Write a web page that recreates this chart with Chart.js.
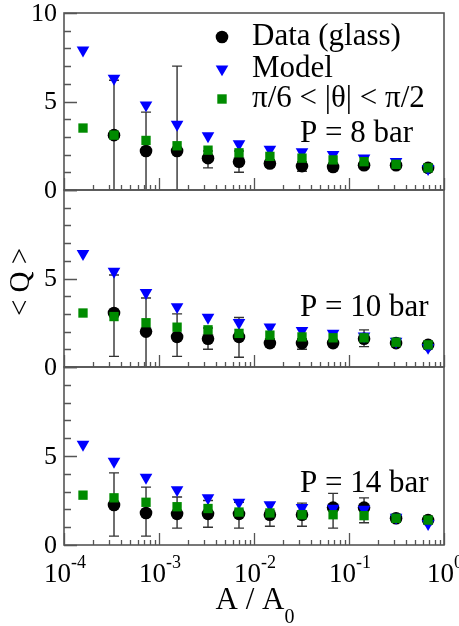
<!DOCTYPE html>
<html>
<head>
<meta charset="utf-8">
<script src="https://cdn.jsdelivr.net/npm/chart.js@4.4.1/dist/chart.umd.min.js"></script>
<style>
  html, body { margin: 0; padding: 0; background: #fff; }
  #wrap { position: relative; width: 459px; height: 626px; overflow: hidden; }
  canvas { position: absolute; left: 0; }
  #fontprobe { position: absolute; left: -1000px; top: 0; font-family: "Liberation Serif"; font-size: 20px; }
</style>
</head>
<body>
<div id="fontprobe">Data (glass) Model π/6 &lt; |θ| &lt; π/2 P = 8 bar 10 A / A0</div>
<div id="wrap">
  <canvas id="p8" width="459" height="200" style="top:0px"></canvas>
  <canvas id="p10" width="459" height="200" style="top:180px"></canvas>
  <canvas id="p14" width="459" height="269" style="top:357px"></canvas>
</div>
<script>
// x values (A / A0)
const areaRatio = [1.585e-4, 3.36e-4, 7.3e-4, 1.55e-3, 3.28e-3, 6.95e-3, 0.0147, 0.032, 0.068, 0.144, 0.313, 0.68];

// P = 8 bar
const data8 = [null, 3.1, 2.2, 2.2, 1.8, 1.6, 1.5, 1.35, 1.3, 1.4, 1.4, 1.25];
const model8 = [7.9, 6.3, 4.8, 3.7, 3.05, 2.6, 2.3, 2.15, 2.0, 1.8, 1.6, 1.2];
const range8 = [3.5, 3.1, 2.8, 2.5, 2.25, 2.1, 1.9, 1.8, 1.7, 1.6, 1.45, 1.25];
const errLow8 = [null, 0, 0, 0, 1.25, 1.0, 1.3, 1.05, 1.1, 1.25, 1.3, 1.15];
const errHigh8 = [null, 6.2, 4.4, 7.0, 2.2, 2.2, 1.7, 1.6, 1.5, 1.55, 1.5, 1.35];

// P = 10 bar
const data10 = [null, 3.05, 2.0, 1.7, 1.6, 1.7, 1.35, 1.35, 1.35, 1.6, 1.35, 1.25];
const model10 = [6.4, 5.4, 4.2, 3.4, 2.8, 2.5, 2.25, 2.05, 1.9, 1.75, 1.45, 1.1];
const range10 = [3.05, 2.85, 2.5, 2.25, 2.1, 1.9, 1.8, 1.7, 1.65, 1.65, 1.4, 1.25];
const errLow10 = [null, 0.6, 0, 0.6, 1.0, 0.55, 1.15, 1.0, 1.2, 1.15, 1.2, 1.1];
const errHigh10 = [null, 5.2, 3.9, 3.0, 2.2, 2.8, 1.6, 1.6, 1.5, 2.1, 1.5, 1.4];

// P = 14 bar
const data14 = [null, 2.25, 1.8, 1.75, 1.75, 1.75, 1.7, 1.7, 2.1, 2.1, 1.5, 1.4];
const model14 = [5.65, 4.7, 3.8, 3.1, 2.65, 2.4, 2.25, 2.1, 2.05, 2.0, 1.55, 1.2];
const range14 = [2.8, 2.65, 2.4, 2.15, 2.05, 1.85, 1.8, 1.7, 1.7, 1.65, 1.5, 1.4];
const errLow14 = [null, 0.5, 0.5, 0.95, 1.0, 0.95, 1.05, 1.05, 0.95, 1.25, 1.3, 1.2];
const errHigh14 = [null, 4.05, 3.25, 2.7, 2.5, 2.4, 2.35, 2.35, 2.9, 2.65, 1.7, 1.6];

const legendLabels = ['Data (glass)', 'Model', 'π/6 < |θ| < π/2'];
const yTicksTop = [0, 5, 10];
const yTicksLower = [0, 5];
const xTickExponents = [-4, -3, -2, -1, 0];

const serif = '"Liberation Serif"';
const GREEN = '#008b00';

function toPoints(values) {
    return areaRatio.map((x, i) => ({x: x, y: values[i]})).filter(p => p.y !== null);
}

function drawMarker(ctx, kind, x, y) {
    ctx.beginPath();
    if (kind === 'circle') {
        ctx.fillStyle = '#000';
        ctx.arc(x, y, 6.3, 0, Math.PI * 2);
    } else if (kind === 'triangle') {
        ctx.fillStyle = '#0000ff';
        ctx.moveTo(x - 6.3, y - 3.6);
        ctx.lineTo(x + 6.3, y - 3.6);
        ctx.lineTo(x, y + 7.3);
        ctx.closePath();
    } else {
        ctx.fillStyle = GREEN;
        ctx.rect(x - 4.7, y - 4.7, 9.4, 9.4);
    }
    ctx.fill();
}

const panelDeco = {
    id: 'panelDeco',
    beforeDatasetsDraw(chart, args, opts) {
        const {ctx, chartArea: a} = chart;
        const x = chart.scales.x, y = chart.scales.y;
        ctx.save();
        ctx.beginPath();
        ctx.rect(a.left, a.top, a.right - a.left, a.bottom - a.top);
        ctx.clip();
        ctx.strokeStyle = '#333';
        ctx.lineWidth = 1.4;
        opts.errLow.forEach((lo, i) => {
            if (lo === null) return;
            const px = x.getPixelForValue(areaRatio[i]);
            const yl = y.getPixelForValue(lo);
            const yh = y.getPixelForValue(opts.errHigh[i]);
            ctx.beginPath();
            ctx.moveTo(px, yl); ctx.lineTo(px, yh);
            ctx.moveTo(px - 5, yl); ctx.lineTo(px + 5, yl);
            ctx.moveTo(px - 5, yh); ctx.lineTo(px + 5, yh);
            ctx.stroke();
        });
        ctx.restore();
    },
    afterDraw(chart, args, opts) {
        const {ctx, chartArea: a} = chart;
        const x = chart.scales.x, y = chart.scales.y;
        ctx.save();

        // ticks (pointing inward)
        ctx.strokeStyle = '#555';
        ctx.lineWidth = 1.3;
        ctx.beginPath();
        for (let v = 0; v <= 10; v++) {
            const py = Math.round(y.getPixelForValue(v)) + 0.5;
            ctx.moveTo(a.left, py);
            ctx.lineTo(a.left + (v % 5 === 0 ? 13 : 7), py);
        }
        xTickExponents.forEach(d => {
            for (let m = 1; m <= 9; m++) {
                const v = m * Math.pow(10, d);
                if (v > 1) break;
                const px = Math.round(x.getPixelForValue(v)) + 0.5;
                ctx.moveTo(px, a.bottom);
                ctx.lineTo(px, a.bottom - (m === 1 ? 12 : 5));
            }
        });
        ctx.stroke();

        // frame
        ctx.lineWidth = 1.6;
        ctx.strokeRect(a.left, a.top, a.right - a.left, a.bottom - a.top);

        // y tick labels
        ctx.fillStyle = '#000';
        ctx.font = '26px ' + serif;
        ctx.textAlign = 'right';
        ctx.textBaseline = 'middle';
        opts.yTicks.forEach(v => ctx.fillText(String(v), 57, y.getPixelForValue(v) + 1));

        // pressure label
        ctx.font = '31px ' + serif;
        ctx.textAlign = 'left';
        ctx.fillText(opts.title, 300, opts.titleY);

        if (opts.legend) {
            const kinds = ['circle', 'triangle', 'square'];
            const rows = [37, 69, 99];
            legendLabels.forEach((t, i) => {
                drawMarker(ctx, kinds[i], 222, rows[i]);
                ctx.fillStyle = '#000';
                ctx.fillText(t, 252, rows[i]);
            });
        }

        if (opts.yTitle) {
            ctx.save();
            ctx.translate(21, 102);
            ctx.rotate(-Math.PI / 2);
            ctx.font = '29px ' + serif;
            ctx.textAlign = 'center';
            ctx.fillText('< Q >', 0, 0);
            ctx.restore();
        }

        if (opts.xAxis) {
            ctx.textBaseline = 'alphabetic';
            xTickExponents.forEach(d => {
                const px = x.getPixelForValue(Math.pow(10, d));
                ctx.font = '27px ' + serif;
                const w1 = ctx.measureText('10').width;
                const sup = d === 0 ? '0' : '-' + Math.abs(d);
                ctx.font = '18px ' + serif;
                const w2 = ctx.measureText(sup).width;
                const left = px - (w1 + w2) / 2 + 1;
                ctx.font = '27px ' + serif;
                ctx.textAlign = 'left';
                ctx.fillText('10', left, a.bottom + 37);
                ctx.font = '18px ' + serif;
                ctx.fillText(sup, left + w1, a.bottom + 23);
            });
            // axis title A / A0
            ctx.font = '31px ' + serif;
            const wa = ctx.measureText('A / A').width;
            ctx.font = '20px ' + serif;
            const ws = ctx.measureText('0').width;
            const left = 255 - (wa + ws) / 2;
            ctx.font = '31px ' + serif;
            ctx.fillText('A / A', left, a.bottom + 64);
            ctx.font = '20px ' + serif;
            ctx.fillText('0', left + wa, a.bottom + 78);
        }
        ctx.restore();
    }
};

function makePanel(id, data, model, range, errLow, errHigh, padding, extra) {
    const ctx = document.getElementById(id).getContext('2d');
    return new Chart(ctx, {
        type: 'scatter',
        data: {
            datasets: [{
                label: legendLabels[2],
                data: toPoints(range),
                pointStyle: 'rect',
                pointRadius: 6.6,
                backgroundColor: GREEN,
                borderWidth: 0
            }, {
                label: legendLabels[1],
                data: toPoints(model),
                pointStyle: 'triangle',
                rotation: 180,
                pointRadius: 7.3,
                backgroundColor: '#0000ff',
                borderWidth: 0
            }, {
                label: legendLabels[0],
                data: toPoints(data),
                pointStyle: 'circle',
                pointRadius: 6.3,
                backgroundColor: '#000',
                borderWidth: 0
            }]
        },
        options: {
            responsive: false,
            animation: false,
            events: [],
            layout: {padding: padding},
            scales: {
                x: {type: 'logarithmic', min: 1e-4, max: 1, display: false},
                y: {type: 'linear', min: 0, max: 10, display: false}
            },
            plugins: {
                legend: {display: false},
                tooltip: {enabled: false},
                panelDeco: Object.assign({errLow: errLow, errHigh: errHigh}, extra)
            }
        },
        plugins: [panelDeco]
    });
}

function build() {
    makePanel('p8', data8, model8, range8, errLow8, errHigh8,
        {left: 64, right: 15, top: 13, bottom: 10},
        {yTicks: yTicksTop, title: 'P = 8 bar', titleY: 134, legend: true});

    makePanel('p10', data10, model10, range10, errLow10, errHigh10,
        {left: 64, right: 15, top: 10, bottom: 13},
        {yTicks: yTicksLower, title: 'P = 10 bar', titleY: 128, yTitle: true});

    makePanel('p14', data14, model14, range14, errLow14, errHigh14,
        {left: 64, right: 15, top: 10, bottom: 81},
        {yTicks: yTicksLower, title: 'P = 14 bar', titleY: 127, xAxis: true});
}

if (document.fonts && document.fonts.load) {
    Promise.all([
        document.fonts.load('26px "Liberation Serif"'),
        document.fonts.ready
    ]).then(build, build);
} else {
    build();
}
</script>
</body>
</html>
